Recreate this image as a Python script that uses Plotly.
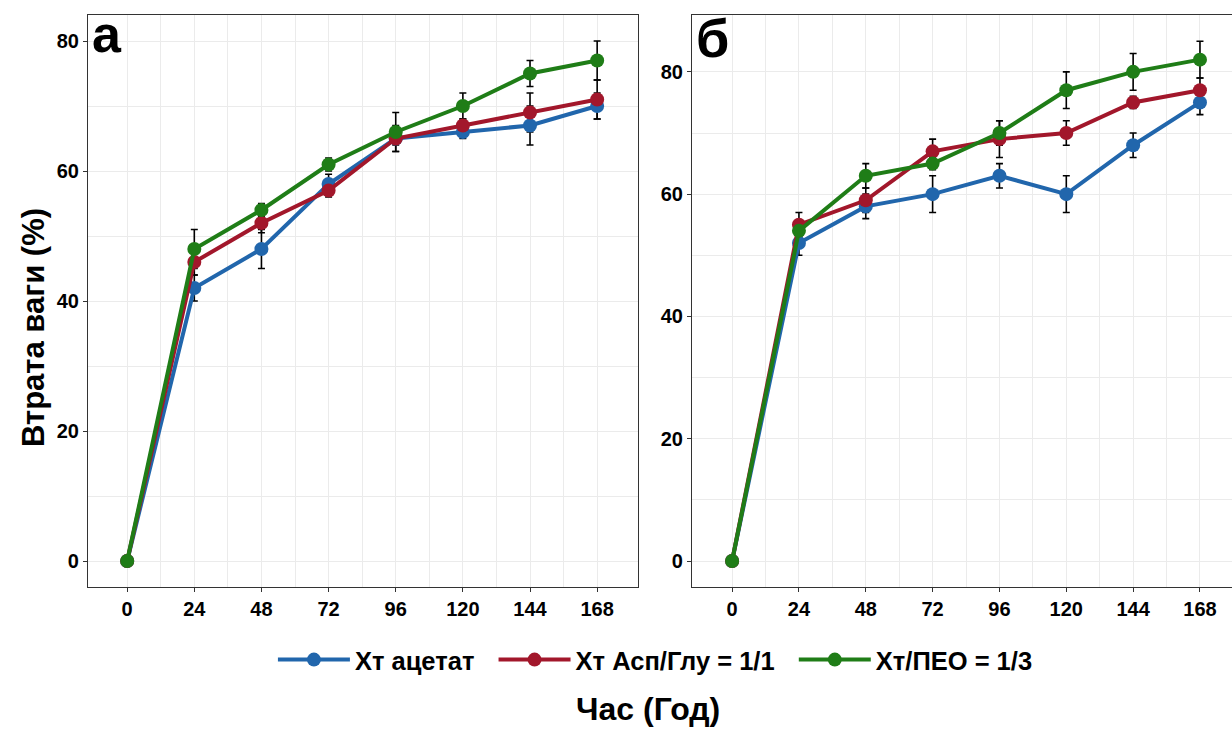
import plotly.graph_objects as go

# Time points (hours)
hours = [0, 24, 48, 72, 96, 120, 144, 168]
x_ticks = [0, 24, 48, 72, 96, 120, 144, 168]

series_names = ["Хт ацетат", "Хт Асп/Глу = 1/1", "Хт/ПЕО = 1/3"]
series_colors = ["#2166AC", "#A2172B", "#1F7D17"]

# Panel а: weight loss (%) and error
a_acetate = [0, 42, 48, 58, 65, 66, 67, 70]
a_aspglu = [0, 46, 52, 57, 65, 67, 69, 71]
a_peo = [0, 48, 54, 61, 66, 70, 75, 77]
a_acetate_err = [0, 2, 3, 1.5, 2, 1, 3, 2]
a_aspglu_err = [0, 2, 1.5, 1, 1, 1, 3, 3]
a_peo_err = [0, 3, 1, 1, 3, 2, 2, 3]

# Panel б: weight loss (%) and error
b_acetate = [0, 52, 58, 60, 63, 60, 68, 75]
b_aspglu = [0, 55, 59, 67, 69, 70, 75, 77]
b_peo = [0, 54, 63, 65, 70, 77, 80, 82]
b_acetate_err = [0, 2, 2, 3, 2, 3, 2, 2]
b_aspglu_err = [0, 2, 2, 2, 3, 2, 1, 2]
b_peo_err = [0, 1, 2, 1, 2, 3, 3, 3]

panels = [
    ("x", "y", [a_acetate, a_aspglu, a_peo], [a_acetate_err, a_aspglu_err, a_peo_err]),
    ("x2", "y2", [b_acetate, b_aspglu, b_peo], [b_acetate_err, b_aspglu_err, b_peo_err]),
]

FONT = "Liberation Sans, Arial, sans-serif"
fig = go.Figure()

# error bars first so lines and points sit on top
for xa, ya, vals, errs in panels:
    for v, e in zip(vals, errs):
        fig.add_trace(go.Scatter(
            x=hours, y=v, xaxis=xa, yaxis=ya, mode="markers",
            marker=dict(size=1, color="rgba(0,0,0,0)"),
            error_y=dict(type="data", array=e, visible=True, color="black",
                         thickness=1.6, width=3.5),
            showlegend=False, hoverinfo="skip"))

for pi, (xa, ya, vals, errs) in enumerate(panels):
    for i, (name, color, v) in enumerate(zip(series_names, series_colors, vals)):
        pad = "\u00a0\u00a0" if i < len(series_names) - 1 else ""
        fig.add_trace(go.Scatter(
            x=hours, y=v, xaxis=xa, yaxis=ya, mode="lines+markers",
            name=name + pad,
            line=dict(color=color, width=4),
            marker=dict(color=color, size=14),
            showlegend=(pi == 0)))

grid = "#EBEBEB"
frame = "#333333"
W, H = 1232, 729

def xaxis(domain, rng):
    return dict(domain=domain, range=rng, tickmode="array", tickvals=x_ticks,
                ticktext=[str(t) for t in x_ticks], showgrid=True, gridcolor=grid,
                gridwidth=1.3, zeroline=False, showline=True, linecolor=frame,
                linewidth=1.2, mirror=True, ticks="outside", ticklen=4,
                tickcolor=frame, tickwidth=1.2,
                tickfont=dict(family=FONT, size=20, color="black", weight="bold"),
                minor=dict(tickmode="array", tickvals=[12, 36, 60, 84, 108, 132, 156],
                           showgrid=True, gridcolor=grid, gridwidth=1.0, ticks=""))

def yaxis(domain, rng, anchor, mirror):
    return dict(domain=domain, range=rng, anchor=anchor, tickmode="array",
                tickvals=[0, 20, 40, 60, 80], showgrid=True, gridcolor=grid,
                gridwidth=1.3, zeroline=False, showline=True, linecolor=frame,
                linewidth=1.2, mirror=mirror, ticks="outside", ticklen=4,
                tickcolor=frame, tickwidth=1.2,
                tickfont=dict(family=FONT, size=20, color="black", weight="bold"),
                minor=dict(tickmode="array", tickvals=[10, 30, 50, 70],
                           showgrid=True, gridcolor=grid, gridwidth=1.0, ticks=""))

ydom = [1 - 587 / H, 1 - 15 / H]
fig.update_layout(
    width=W, height=H, margin=dict(l=0, r=0, t=0, b=0),
    paper_bgcolor="white", plot_bgcolor="white",
    xaxis=dict(anchor="y", **xaxis([88 / W, 638 / W], [-14.0, 182.6])),
    yaxis=yaxis(ydom, [-4, 84], "x", True),
    xaxis2=dict(anchor="y2", **xaxis([692 / W, 1.0], [-14.4, 179.5])),
    yaxis2=yaxis(ydom, [-4.25, 89.3], "x2", False),
    legend=dict(orientation="h", x=0.532, xanchor="center", y=1 - 660 / H,
                yanchor="middle", font=dict(family=FONT, size=25.5, color="black",
                                            weight="bold"),
                itemwidth=72, tracegroupgap=0),
    showlegend=True,
)

ann_font = dict(family=FONT, color="black", weight="bold")
fig.add_annotation(text="Втрата ваги (%)", x=33 / W, y=1 - 328 / H, xref="paper",
                   yref="paper", textangle=-90, showarrow=False,
                   xanchor="center", yanchor="middle",
                   font=dict(size=31, **ann_font))
fig.add_annotation(text="Час (Год)", x=648 / W, y=0, xref="paper",
                   yref="paper", showarrow=False, xanchor="center", yanchor="bottom",
                   font=dict(size=32, **ann_font))
fig.add_annotation(text="а", x=90 / W, y=1 - 3 / H, xref="paper", yref="paper",
                   showarrow=False, xanchor="left", yanchor="top",
                   font=dict(size=52, **ann_font))
fig.add_annotation(text="б", x=694 / W, y=1 - 6 / H, xref="paper", yref="paper",
                   showarrow=False, xanchor="left", yanchor="top",
                   font=dict(size=54, **ann_font))

fig.write_html("out.html")
